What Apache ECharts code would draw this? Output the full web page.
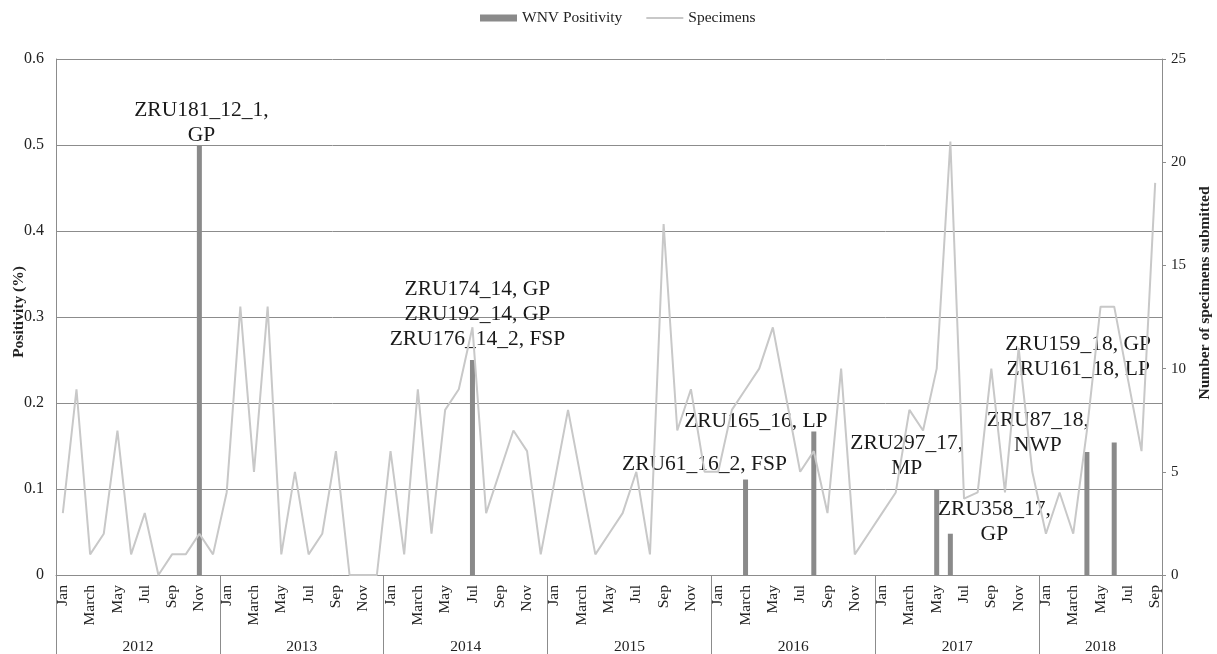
<!DOCTYPE html>
<html>
<head>
<meta charset="utf-8">
<script src="https://cdn.jsdelivr.net/npm/echarts@6/dist/echarts.min.js"></script>
<style>
  html, body { margin: 0; padding: 0; background: #fff; }
  #chart { width: 1217px; height: 654px; }
</style>
</head>
<body>
<div id="chart"></div>
<script>
var years = ['2012', '2013', '2014', '2015', '2016', '2017', '2018'];
var monthNames = ['Jan', 'Feb', 'March', 'Apr', 'May', 'Jun', 'Jul', 'Aug', 'Sep', 'Oct', 'Nov', 'Dec'];
var monthsPerYear = [12, 12, 12, 12, 12, 12, 9];

// specimens submitted per month
var specimens2012 = [3, 9, 1, 2, 7, 1, 3, 0, 1, 1, 2, 1];
var specimens2013 = [4, 13, 5, 13, 1, 5, 1, 2, 6, 0, 0, 0];
var specimens2014 = [6, 1, 9, 2, 8, 9, 12, 3, 5, 7, 6, 1];
var specimens2015 = [4.5, 8, 4.5, 1, 2, 3, 5, 1, 17, 7, 9, 5];
var specimens2016 = [5, 8, 9, 10, 12, 8.5, 5, 6, 3, 10, 1, 2];
var specimens2017 = [3, 4, 8, 7, 10, 21, 3.7, 4, 10, 4, 11, 5];
var specimens2018 = [2, 4, 2, 7, 13, 13, 9.5, 6, 19];

// WNV positive months
var positiveMonths = ['2012-Nov', '2014-Jul', '2016-March', '2016-Aug', '2017-May', '2017-Jun', '2018-Apr', '2018-Jun'];
var positiveRates = [0.5, 0.25, 0.111, 0.167, 0.1, 0.048, 0.143, 0.154];
var positiveNotes = [
  'ZRU181_12_1,\nGP',
  'ZRU174_14, GP\nZRU192_14, GP\nZRU176_14_2, FSP',
  'ZRU61_16_2, FSP',
  'ZRU165_16, LP',
  'ZRU297_17,\nMP',
  'ZRU358_17,\nGP',
  'ZRU87_18,\nNWP',
  'ZRU159_18, GP\nZRU161_18, LP'
];

var specimensByYear = [specimens2012, specimens2013, specimens2014, specimens2015,
  specimens2016, specimens2017, specimens2018];

// label nudges for the annotations (px)
var noteOffsets = [[2, 8], [5, -3.5], [-41, 2], [-58, 7], [-30, -3.5], [44, 18], [-49, 11], [-36, -56]];

var font = "'Liberation Serif', 'Times New Roman', serif";
var gridColor = '#8c8c8c';

var months = [];
var specimens = [];
years.forEach(function (y, yi) {
  for (var m = 0; m < monthsPerYear[yi]; m++) {
    months.push(y + '-' + monthNames[m]);
    specimens.push(specimensByYear[yi][m]);
  }
});

var positivity = months.map(function (key) {
  var k = positiveMonths.indexOf(key);
  if (k < 0) return 0;
  return {
    value: positiveRates[k],
    label: {
      show: true,
      position: 'top',
      formatter: positiveNotes[k],
      offset: noteOffsets[k]
    }
  };
});

// year row: half-month points so year centres and edges fall on points
var yearPoints = [];
var yearLabelAt = {};
var yearEdgeAt = {};
var start = 0;
years.forEach(function (y, yi) {
  yearEdgeAt[start * 2] = true;
  yearLabelAt[start * 2 + monthsPerYear[yi]] = y;
  start += monthsPerYear[yi];
});
yearEdgeAt[start * 2] = true;
for (var p = 0; p <= start * 2; p++) yearPoints.push('p' + p);

var option = {
  animation: false,
  textStyle: { fontFamily: font },
  legend: {
    top: 5,
    left: 475,
    itemWidth: 37,
    itemHeight: 7,
    itemGap: 23,
    textStyle: { fontFamily: font, fontSize: 15.5, color: '#222' },
    data: [
      { name: 'WNV Positivity', icon: 'rect' },
      { name: 'Specimens', itemStyle: { opacity: 0 } }
    ]
  },
  grid: { left: 56, right: 55, top: 59, bottom: 79, outerBoundsMode: 'none', containLabel: false },
  xAxis: [
    {
      type: 'category',
      data: months,
      axisLine: { lineStyle: { color: gridColor } },
      axisTick: { show: false },
      axisLabel: {
        interval: 1,
        rotate: 90,
        margin: 10,
        fontSize: 15.5,
        fontFamily: font,
        color: '#222',
        formatter: function (v) { return v.split('-')[1]; }
      }
    },
    {
      type: 'category',
      data: yearPoints,
      boundaryGap: false,
      position: 'bottom',
      axisLine: { show: false },
      axisTick: {
        show: true,
        length: 80,
        interval: function (i) { return !!yearEdgeAt[i]; },
        lineStyle: { color: gridColor }
      },
      axisLabel: {
        interval: function (i) { return yearLabelAt[i] !== undefined; },
        margin: 64,
        fontSize: 15.5,
        fontFamily: font,
        color: '#222',
        formatter: function (v, i) { return yearLabelAt[i] || ''; }
      }
    }
  ],
  yAxis: [
    {
      type: 'value',
      min: 0,
      max: 0.6,
      interval: 0.1,
      name: 'Positivity (%)',
      nameLocation: 'middle',
      nameGap: 29,
      nameMoveOverlap: false,
      nameTextStyle: {
        fontFamily: font, fontSize: 15.5, fontWeight: 'bold', color: '#222',
        padding: [0, 0, 0, 10]
      },
      axisLine: { show: true, lineStyle: { color: gridColor } },
      axisTick: { show: false },
      axisLabel: { fontSize: 16, fontFamily: font, color: '#222', margin: 12 },
      splitLine: { lineStyle: { color: gridColor, width: 1 } }
    },
    {
      type: 'value',
      min: 0,
      max: 25,
      interval: 5,
      name: 'Number of specimens submitted',
      nameLocation: 'middle',
      nameRotate: 90,
      nameGap: 35,
      nameMoveOverlap: false,
      nameTextStyle: {
        fontFamily: font, fontSize: 15.5, fontWeight: 'bold', color: '#222',
        padding: [0, 0, 0, 48]
      },
      axisLine: { show: true, lineStyle: { color: gridColor } },
      axisTick: { show: true, length: 4, lineStyle: { color: gridColor } },
      axisLabel: { fontSize: 15, fontFamily: font, color: '#222', margin: 9 },
      splitLine: { show: false }
    }
  ],
  series: [
    {
      name: 'Specimens',
      type: 'line',
      yAxisIndex: 1,
      data: specimens,
      symbol: 'none',
      lineStyle: { color: '#c8c8c8', width: 2 },
      itemStyle: { color: '#c8c8c8' }
    },
    {
      name: 'WNV Positivity',
      type: 'bar',
      yAxisIndex: 0,
      barWidth: 5,
      data: positivity,
      itemStyle: { color: '#8a8a8a' },
      label: {
        fontFamily: font,
        fontSize: 21.5,
        lineHeight: 25,
        color: '#1a1a1a'
      }
    }
  ]
};

var chart = echarts.init(document.getElementById('chart'));
chart.setOption(option);
</script>
</body>
</html>
